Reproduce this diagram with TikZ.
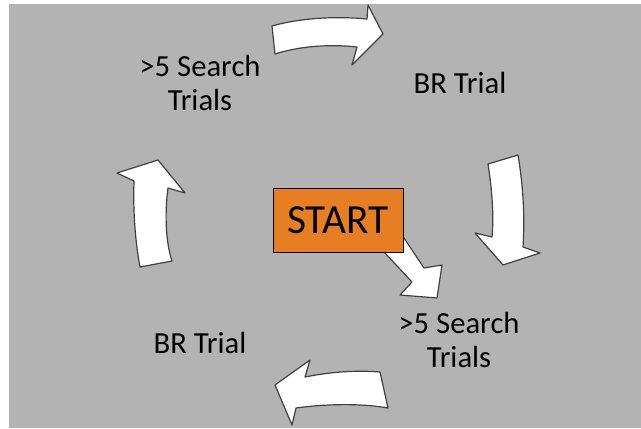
\documentclass[tikz,border=0pt]{standalone}
\usepackage{fontspec}
\setmainfont{Carlito}
\usepackage{tikz}
\usetikzlibrary{calc}

\definecolor{bggray}{RGB}{179,179,179}
\definecolor{startorange}{RGB}{230,126,36}

\tikzset{
  blockarrow/.style={fill=white, draw=black!75, line width=0.9pt, line join=round},
  steplabel/.style={align=center, anchor=base, inner sep=0pt,
    font=\fontsize{23}{25}\selectfont},
  startbox/.style={fill=startorange, draw=black, line width=0.6pt,
    minimum width=97.5pt, minimum height=48pt, inner sep=0pt,
    font=\fontsize{31}{34}\selectfont}
}

\begin{document}
\begin{tikzpicture}[x=0.75pt, y=-0.75pt]
      \useasboundingbox (0,0) rectangle (641,428);
      \fill[bggray] (9,4) rectangle (641,428);
      % labels of the cycle (base = last line)
      \node[steplabel] (searchA) at (200,110) {>5 Search\\Trials};
      \node[steplabel] (brA) at (460,93) {BR Trial};
      \node[steplabel] (searchB) at (459,367) {>5 Search\\Trials};
      \node[steplabel] (brB) at (200,353) {BR Trial};
      % curved block arrows
      \draw[blockarrow] (272,26) .. controls (300,18) and (335,16) .. (367,19)
        -- (368,5) -- (383,34) -- (352,65) -- (357,47)
        .. controls (330,44) and (300,46) .. (275,54) -- cycle;
      \draw[blockarrow] (488,164) .. controls (492,190) and (494,215) .. (492,237)
        -- (475,233) -- (503,265) -- (540,253) -- (523,247)
        .. controls (525,215) and (523,185) .. (518,155) -- cycle;
      \draw[blockarrow] (380,372) -- (388,408)
        .. controls (360,403) and (325,404) .. (296,408)
        -- (292,425) -- (275,385) -- (310,360) -- (305,377)
        .. controls (330,372) and (355,370) .. (380,372) -- cycle;
      \draw[blockarrow] (140,267) -- (172,261)
        .. controls (165,240) and (165,210) .. (168,188)
        -- (185,193) -- (158,160) -- (117,173) -- (134,181)
        .. controls (133,210) and (135,240) .. (140,267) -- cycle;
      % start
      \draw[blockarrow] (384,252) -- (404,238) -- (424,268) -- (442,265)
        -- (437,298) -- (400,295) -- (412,282) -- cycle;
      \node[startbox] (start) at (338,220) {START};
  \end{tikzpicture}
\end{document}
